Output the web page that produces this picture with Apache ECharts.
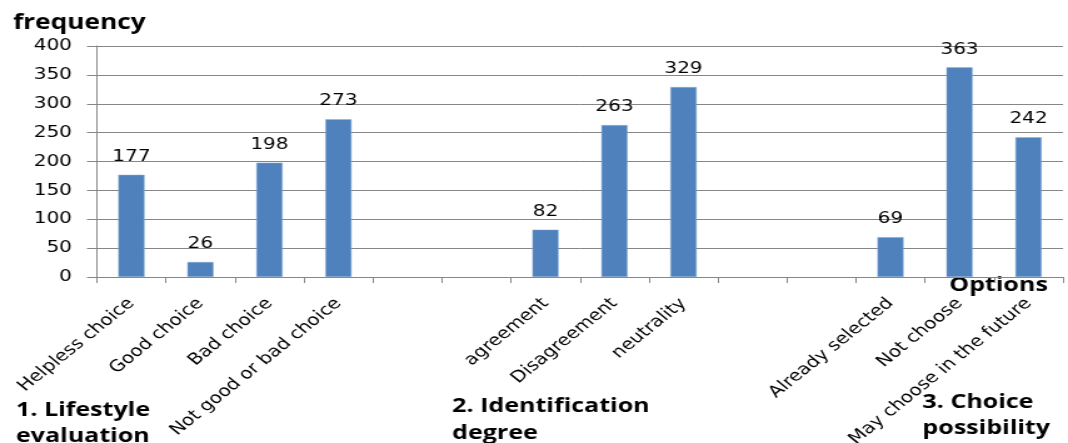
<!DOCTYPE html>
<html>
<head>
<meta charset="utf-8">
<script src="https://cdn.jsdelivr.net/npm/echarts@6/dist/echarts.min.js"></script>
<style>
html,body{margin:0;padding:0;background:#fff;overflow:hidden}
#c{width:854px;height:443px;transform:scaleX(1.2506);transform-origin:0 0}
</style>
</head>
<body>
<div id="c"></div>
<script>
var categories = ['Helpless choice','Good choice','Bad choice','Not good or bad choice','','',
  'agreement','Disagreement','neutrality','','',
  'Already selected','Not choose','May choose in the future'];
var frequency = [177,26,198,273,null,null,82,263,329,null,null,69,363,242];
var yTicks = [0,50,100,150,200,250,300,350,400];

var chart = echarts.init(document.getElementById('c'));
var boldFont = '"Open Sans", "Liberation Sans", sans-serif';
var textFont = '"DejaVu Sans", Verdana, sans-serif';
function t(x, y, s, size){
  return {type:'text', left:x, top:y, style:{text:s, font:'bold ' + (size || 20) + 'px ' + boldFont, fill:'#000'}};
}
chart.setOption({
  animation:false,
  grid:{left:77.5, right:4, top:46, bottom:166, containLabel:false, outerBoundsMode:'none'},
  xAxis:{
    type:'category', data:categories, boundaryGap:true,
    axisLine:{lineStyle:{color:'#868686', width:1}},
    axisTick:{show:true, length:6, lineStyle:{color:'#868686'}},
    axisLabel:{rotate:45, interval:0, margin:24, fontFamily:textFont, fontSize:16, color:'#000'}
  },
  yAxis:{
    type:'value', min:yTicks[0], max:yTicks[yTicks.length-1], interval:50,
    axisLine:{show:true, lineStyle:{color:'#868686'}},
    axisTick:{show:true, length:8, lineStyle:{color:'#868686'}},
    axisLabel:{margin:20, fontFamily:textFont, fontSize:16, color:'#000'},
    splitLine:{lineStyle:{color:'#868686', width:1}}
  },
  series:[{
    type:'bar', data:frequency, barWidth:21,
    itemStyle:{color:'#4F81BD', borderColor:'#8DB0DA', borderWidth:0.5},
    label:{show:true, position:'top', distance:10, fontFamily:textFont, fontSize:16, color:'#000'}
  }],
  graphic:[
    t(10.4, 13, 'frequency', 21),
    t(759, 275, 'Options'),
    t(12.8, 400, '1. Lifestyle'),
    t(12.8, 426, 'evaluation'),
    t(361.6, 396, '2. Identification'),
    t(361.6, 423, 'degree'),
    t(737.6, 392, '3. Choice'),
    t(737.6, 418, 'possibility')
  ]
});
</script>
</body>
</html>
